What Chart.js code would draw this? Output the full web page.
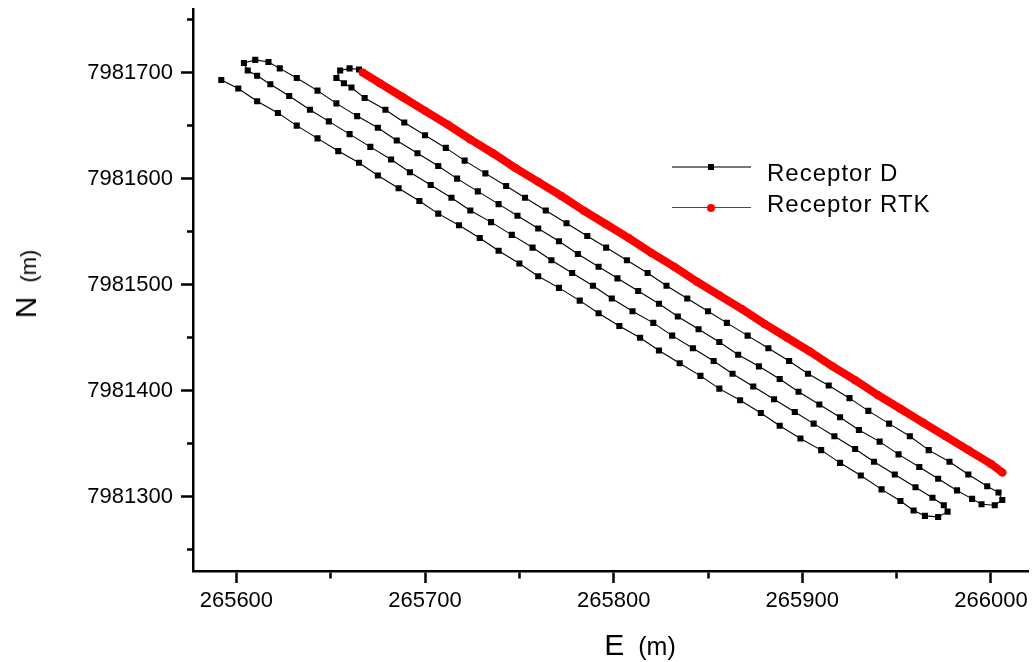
<!DOCTYPE html>
<html>
<head>
<meta charset="utf-8">
<script src="https://cdn.jsdelivr.net/npm/chart.js@4"></script>
<style>
  html, body { margin: 0; padding: 0; background: #fff; }
  #wrap { position: relative; width: 1033px; height: 662px; font-family: "Liberation Sans", Arial, sans-serif; color: #000; }
  #wrap canvas { position: absolute; left: 0; top: 0; }
  .txt { position: absolute; white-space: nowrap; line-height: 1; pointer-events: none; }
  .big { font-size: 30px; }
  .unit { margin-left: 14px; }
  .lg-line { position: absolute; height: 2px; }
  .lg-text { position: absolute; font-size: 24px; letter-spacing: 1px; line-height: 1; white-space: nowrap; }
</style>
</head>
<body>
<div id="wrap">
  <canvas id="plot" width="1033" height="662"></canvas>

  <!-- axis titles -->
  <div class="txt" id="xTitle" style="left:640px; top:630px; transform:translateX(-50%);"><span class="big">E</span><span class="unit" style="font-size:25px;">(m)</span></div>
  <div class="txt" id="yTitle" style="left:26px; top:284px; transform:translate(-50%,-50%) rotate(-90deg);"><span class="big">N</span><span class="unit" style="font-size:22px;">(m)</span></div>

  <!-- legend -->
  <div class="lg-line" style="left:672px; top:166px; width:79px; background:#777;"></div>
  <div style="position:absolute; left:708px; top:164px; width:6px; height:6px; background:#000;"></div>
  <div class="lg-text" style="left:767px; top:161px;">Receptor D</div>
  <div class="lg-line" style="left:672px; top:207px; width:79px; height:1px; background:#f00;"></div>
  <div style="position:absolute; left:707px; top:204px; width:8px; height:8px; border-radius:50%; background:#f00;"></div>
  <div class="lg-text" style="left:767px; top:192px;">Receptor RTK</div>
</div>

<script>
// ─── DATA ───
const X_TICKS = [265600, 265650, 265700, 265750, 265800, 265850, 265900, 265950, 266000];
const Y_TICKS = [7981250, 7981300, 7981350, 7981400, 7981450, 7981500, 7981550, 7981600, 7981650, 7981700, 7981750];

// Receptor D track (E, N), in driving order
const D_E = [
  265592, 265601, 265611, 265622, 265632, 265643, 265654, 265665, 265675, 265686,
  265697, 265707, 265718, 265729, 265739, 265750, 265760, 265771, 265782, 265792,
  265803, 265814, 265824, 265835, 265846, 265856, 265867, 265878, 265888, 265899,
  265910, 265920, 265931, 265942, 265952, 265959, 265965, 265972, 265977, 265975,
  265969, 265960,
  265949, 265938, 265928, 265917, 265906, 265896, 265885, 265874, 265863, 265853,
  265842, 265831, 265821, 265810, 265799, 265789, 265778, 265767, 265757, 265746,
  265735, 265724, 265714, 265703, 265692, 265682, 265671, 265660, 265649, 265639,
  265628, 265618, 265611, 265606,
  265604, 265610, 265617, 265623,
  265632, 265643, 265653, 265664, 265675, 265685, 265696, 265707, 265717, 265728,
  265739, 265749, 265760, 265771, 265781, 265792, 265802, 265813, 265824, 265834,
  265845, 265856, 265866, 265877, 265888, 265898, 265909, 265920, 265930, 265941,
  265951, 265962, 265972, 265982, 265990, 265995, 266002, 266006, 266004, 265998,
  265988, 265978, 265967, 265957, 265946, 265935, 265925, 265914, 265903, 265893,
  265882, 265871, 265860, 265850, 265839, 265828, 265818, 265807, 265796, 265786,
  265775, 265764, 265753, 265743, 265732, 265721, 265711, 265700, 265689, 265679,
  265668, 265661, 265657, 265653, 265655, 265660, 265665
];
const D_N = [
  7981693, 7981685, 7981673, 7981662, 7981650, 7981638, 7981626, 7981615, 7981603, 7981591,
  7981579, 7981567, 7981556, 7981544, 7981532, 7981520, 7981508, 7981497, 7981485, 7981473,
  7981461, 7981450, 7981438, 7981426, 7981414, 7981402, 7981391, 7981379, 7981367, 7981355,
  7981344, 7981332, 7981320, 7981307, 7981296, 7981287, 7981282, 7981281, 7981286, 7981292,
  7981299, 7981309,
  7981321, 7981333, 7981345, 7981357, 7981369, 7981380, 7981392, 7981404, 7981416, 7981428,
  7981440, 7981452, 7981464, 7981475, 7981487, 7981499, 7981511, 7981523, 7981535, 7981547,
  7981559, 7981570, 7981582, 7981594, 7981606, 7981618, 7981630, 7981642, 7981654, 7981665,
  7981678, 7981689, 7981697, 7981702,
  7981709, 7981712, 7981710, 7981704,
  7981695, 7981683, 7981671, 7981659, 7981648, 7981636, 7981624, 7981612, 7981600, 7981588,
  7981576, 7981565, 7981553, 7981541, 7981529, 7981517, 7981506, 7981494, 7981482, 7981470,
  7981458, 7981446, 7981434, 7981423, 7981411, 7981399, 7981387, 7981375, 7981363, 7981352,
  7981340, 7981328, 7981317, 7981306, 7981298, 7981293, 7981292, 7981297, 7981304, 7981310,
  7981321, 7981333, 7981344, 7981357, 7981369, 7981381, 7981393, 7981405, 7981416, 7981428,
  7981440, 7981452, 7981464, 7981475, 7981487, 7981499, 7981511, 7981523, 7981535, 7981546,
  7981558, 7981570, 7981582, 7981593, 7981605, 7981617, 7981629, 7981641, 7981653, 7981665,
  7981676, 7981686, 7981690, 7981695, 7981702, 7981704, 7981703
];

// Receptor RTK track (E, N)
const RTK_E = [
  265667, 265676, 265688, 265700, 265712, 265724, 265736, 265748, 265760, 265772,
  265784, 265796, 265808, 265820, 265832, 265844, 265856, 265868, 265880, 265892,
  265904, 265916, 265928, 265940, 265952, 265964, 265976, 265988, 266000, 266006
];
const RTK_N = [
  7981700, 7981690, 7981677, 7981664, 7981651, 7981637, 7981624, 7981610, 7981597, 7981584,
  7981570, 7981557, 7981544, 7981530, 7981517, 7981503, 7981490, 7981477, 7981463, 7981450,
  7981437, 7981423, 7981410, 7981396, 7981383, 7981370, 7981357, 7981344, 7981331, 7981323
];

Chart.defaults.font.family = '"Liberation Sans", Arial, sans-serif';
Chart.defaults.color = '#000';

const toPoints = (xs, ys) => xs.map((x, i) => ({ x, y: ys[i] }));
const isMinor = c => c.tick && c.tick.value % 100 !== 0;

// shared axis look: black border, outward ticks, minor ticks half length
function axisOpts(ticks, minorDash, labelPad) {
  return {
    type: 'linear',
    afterBuildTicks: s => { s.ticks = ticks.map(v => ({ value: v })); },
    border: { display: true, color: '#000', width: 2.5 },
    grid: {
      drawOnChartArea: false, tickLength: 12, tickWidth: 2.5, tickColor: '#000',
      tickBorderDash: c => isMinor(c) ? minorDash : [],
    },
    ticks: {
      autoSkip: false, maxRotation: 0, padding: labelPad, color: '#000',
      font: { size: 22 },
      callback: v => v % 100 === 0 ? String(v) : '',
    },
  };
}

const ctx = document.getElementById('plot').getContext('2d');
new Chart(ctx, {
  type: 'scatter',
  data: {
    datasets: [
      {
        label: 'Receptor RTK', data: toPoints(RTK_E, RTK_N), showLine: true, order: 0,
        borderColor: '#ff0000', borderWidth: 8, borderCapStyle: 'round', borderJoinStyle: 'round',
        pointRadius: 4, pointBackgroundColor: '#ff0000', pointBorderWidth: 0, tension: 0,
      },
      {
        label: 'Receptor D', data: toPoints(D_E, D_N), showLine: true, order: 1,
        borderColor: '#000', borderWidth: 1.1,
        pointStyle: 'rect', pointRadius: 4.3, pointBackgroundColor: '#000', pointBorderWidth: 0, tension: 0,
      },
    ],
  },
  options: {
    responsive: false, animation: false, events: [],
    layout: { padding: { top: 9, right: 4, left: 0, bottom: 0 } },
    plugins: { legend: { display: false }, tooltip: { enabled: false } },
    scales: {
      x: {
        ...axisOpts(X_TICKS, [6, 20], 5),
        position: 'bottom', min: 265577, max: 266020,
        afterFit: s => { s.height = 91; s.paddingLeft = 0; s.paddingRight = 0; },
      },
      y: {
        ...axisOpts(Y_TICKS, [0, 6, 20], 8),
        position: 'left', min: 7981230, max: 7981760,
        afterFit: s => { s.width = 193; s.paddingTop = 0; s.paddingBottom = 0; },
      },
    },
  },
});
</script>
</body>
</html>
